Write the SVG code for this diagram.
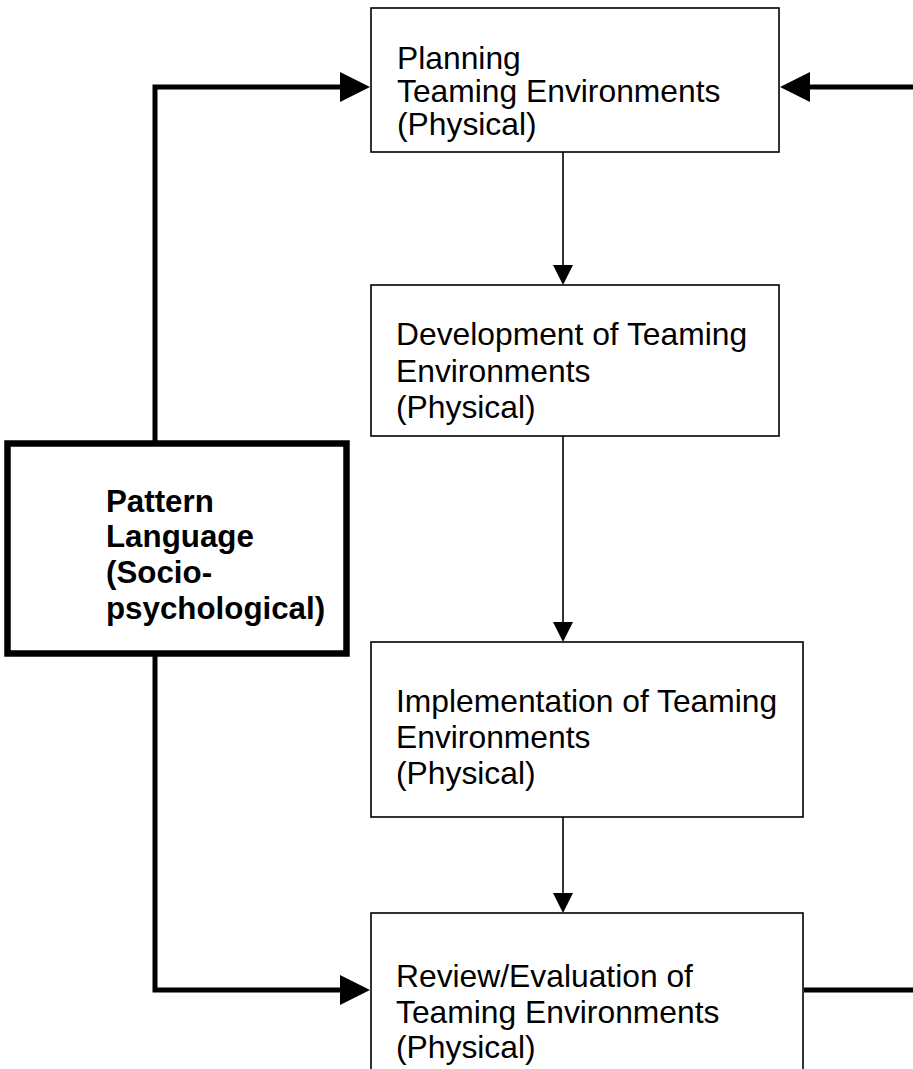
<svg xmlns="http://www.w3.org/2000/svg" width="913" height="1069" viewBox="0 0 913 1069">
<style>
.box{fill:#fff;stroke:#000;stroke-width:1.6}
.lbox{fill:#fff;stroke:#000;stroke-width:6.5}
.t{font-family:"Liberation Sans",Arial,sans-serif;font-size:31.8px;fill:#000}
.b{font-family:"Liberation Sans",Arial,sans-serif;font-size:31.3px;font-weight:bold;fill:#000}
.thin{fill:none;stroke:#000;stroke-width:1.6}
.thick{fill:none;stroke:#000;stroke-width:5}
.head{fill:#000;stroke:none}
</style>
<rect width="913" height="1069" fill="#fff"/>
<g id="connectors">
<path class="thick" d="M155,443 V87 H342"/>
<polygon class="head" points="340,72 370,87 340,102"/>
<path class="thick" d="M913,87 H808"/>
<polygon class="head" points="810,72 780,87 810,102"/>
<path class="thick" d="M155,654 V990 H342"/>
<polygon class="head" points="340,975 370,990 340,1005"/>
<path class="thick" d="M804,990 H913"/>
<path class="thin" d="M563,152 V267"/>
<polygon class="head" points="553,265 573,265 563,285"/>
<path class="thin" d="M563,436 V624"/>
<polygon class="head" points="553,622 573,622 563,642"/>
<path class="thin" d="M563,817 V895"/>
<polygon class="head" points="553,893 573,893 563,913"/>
</g>
<g id="planning">
<rect class="box" x="371" y="8" width="408" height="144"/>
<text class="t" x="397" y="69">Planning</text>
<text class="t" x="397" y="102">Teaming Environments</text>
<text class="t" x="397" y="135">(Physical)</text>
</g>
<g id="development">
<rect class="box" x="371" y="285" width="408" height="151"/>
<text class="t" x="396" y="345">Development of Teaming</text>
<text class="t" x="396" y="382">Environments</text>
<text class="t" x="396" y="418">(Physical)</text>
</g>
<g id="implementation">
<rect class="box" x="371" y="642" width="432" height="175"/>
<text class="t" x="396" y="712">Implementation of Teaming</text>
<text class="t" x="396" y="748">Environments</text>
<text class="t" x="396" y="784">(Physical)</text>
</g>
<g id="review">
<rect class="box" x="371" y="913" width="432" height="170"/>
<text class="t" x="396" y="987">Review/Evaluation of</text>
<text class="t" x="396" y="1023">Teaming Environments</text>
<text class="t" x="396" y="1058">(Physical)</text>
</g>
<g id="pattern-language">
<rect class="lbox" x="7.5" y="443.5" width="339" height="210"/>
<text class="b" x="106" y="512">Pattern</text>
<text class="b" x="106" y="547">Language</text>
<text class="b" x="106" y="583">(Socio-</text>
<text class="b" x="106" y="619">psychological)</text>
</g>
</svg>
